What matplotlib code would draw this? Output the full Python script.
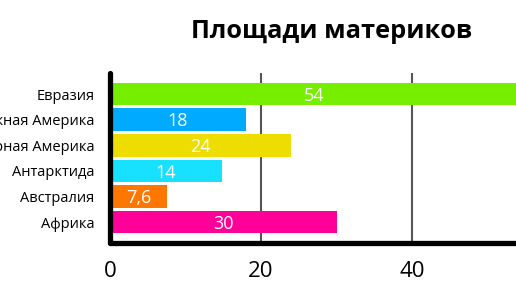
import matplotlib.pyplot as plt

# continents and their areas (million km2)
continents = ["Евразия", "Южная Америка", "Северная Америка", "Антарктида", "Австралия", "Африка"]
areas = [54, 18, 24, 14.8, 7.6, 30]
area_labels = ["54", "18", "24", "14", "7,6", "30"]
colors = ["#76ee00", "#00aaff", "#eedd00", "#18e0ff", "#ff7700", "#ff0099"]

plt.rcParams['font.family'] = ['Open Sans', 'DejaVu Sans']

fig = plt.figure(figsize=(5.16, 2.90), dpi=100)
ax = fig.add_axes([0.2132, 0.162, 0.878, 0.586])

ypos = list(range(len(continents)))
bars = ax.barh(ypos, areas, height=0.88, color=colors, zorder=2)
for b, lab in zip(bars, area_labels):
    ax.text(b.get_width() / 2, b.get_y() + b.get_height() / 2 + 0.07, lab,
            ha='center', va='center', color='white', fontsize=13, zorder=3)

ax.set_xlim(0, 60)
ax.set_ylim(5.82, -0.82)
ax.set_xticks([0, 20, 40])
ax.set_yticks(ypos)
ax.set_yticklabels(continents, fontsize=10.5)
ax.tick_params(axis='x', length=0, pad=13, labelsize=16)
ax.tick_params(axis='y', length=0, pad=11)

ax.grid(axis='x', color='#555555', linewidth=1.5, zorder=1)
for s in ['top', 'right']:
    ax.spines[s].set_visible(False)
for s in ['left', 'bottom']:
    ax.spines[s].set_linewidth(3.8)
    ax.spines[s].set_capstyle('round')
    ax.spines[s].set_zorder(4)

fig.text(0.643, 0.892, "Площади материков", ha='center', va='center',
         fontsize=18.3, fontweight='bold')

plt.savefig("out.png", dpi=100)
